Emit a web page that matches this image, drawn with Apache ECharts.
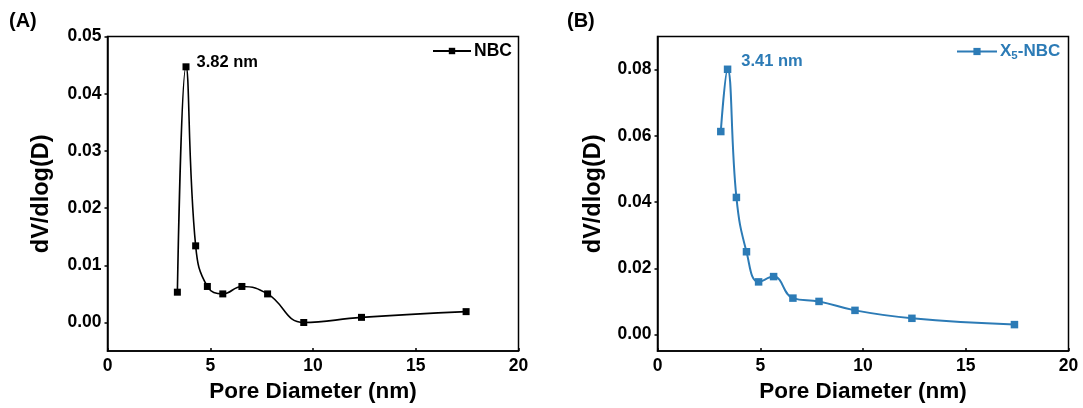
<!DOCTYPE html>
<html>
<head>
<meta charset="utf-8">
<script src="https://cdn.jsdelivr.net/npm/echarts@6/dist/echarts.min.js"></script>
<style>
html,body{margin:0;padding:0;background:#fff;}
#chart{width:1083px;height:408px;}
</style>
</head>
<body>
<div id="chart"></div>
<script>
// ---- Data ----
const xNBC = [3.40, 3.82, 4.29, 4.86, 5.61, 6.54, 7.79, 9.55, 12.36, 17.45];
const yNBC = [0.0053, 0.0447, 0.0134, 0.0063, 0.0050, 0.0063, 0.0050, 0.0000, 0.0009, 0.0019];
const xX5 = [3.08, 3.41, 3.84, 4.33, 4.92, 5.65, 6.59, 7.86, 9.61, 12.38, 17.37];
const yX5 = [0.0613, 0.0801, 0.0414, 0.0250, 0.0159, 0.0175, 0.0110, 0.0100, 0.0073, 0.0049, 0.0030];
const yTicksA = [0.00, 0.01, 0.02, 0.03, 0.04, 0.05];
const yTicksB = [0.00, 0.02, 0.04, 0.06, 0.08];
const xTicks = [0, 5, 10, 15, 20];
const peakA = 1, peakB = 1;
const labelA = '3.82 nm', labelB = '3.41 nm';

const FONT = '"Liberation Sans", Arial, sans-serif';
const BLUE = '#2c7bb6';

function pts(xs, ys, peakIdx, label, color, dist) {
  return xs.map((x, i) => {
    const d = { value: [x, ys[i]] };
    if (i === peakIdx) {
      d.label = {
        show: true, formatter: label, position: 'right', distance: dist[0], offset: [0, dist[1]],
        color: color, fontFamily: FONT, fontWeight: 'bold', fontSize: 16.5
      };
    }
    return d;
  });
}

function xAxisCfg(gi) {
  return {
    type: 'value', gridIndex: gi, min: 0, max: 20, interval: 5,
    name: 'Pore Diameter (nm)', nameLocation: 'middle', nameGap: 28,
    nameTextStyle: { fontFamily: FONT, fontWeight: 'bold', fontSize: 22.5, color: '#000' },
    axisLine: { show: true, onZero: false, lineStyle: { color: '#000', width: 1.5 } },
    axisTick: { show: true, inside: true, length: 3, lineStyle: { color: '#000', width: 1.5 } },
    axisLabel: { fontFamily: FONT, fontWeight: 'bold', fontSize: 17.5, color: '#000', margin: 6,
      customValues: xTicks },
    splitLine: { show: false }
  };
}
function yAxisCfg(gi, ticks, min, max, gap) {
  return {
    type: 'value', gridIndex: gi, min: min, max: max,
    name: 'dV/dlog(D)', nameLocation: 'middle', nameGap: gap,
    nameTextStyle: { fontFamily: FONT, fontWeight: 'bold', fontSize: 23.5, color: '#000' },
    axisLine: { show: true, onZero: false, lineStyle: { color: '#000', width: 1.5 } },
    axisTick: { show: true, inside: false, length: 3, customValues: ticks, lineStyle: { color: '#000', width: 1.5 } },
    axisLabel: { fontFamily: FONT, fontWeight: 'bold', fontSize: 17.5, color: '#000', margin: 6,
      customValues: ticks, formatter: v => v.toFixed(2) },
    splitLine: { show: false }
  };
}

const chart = echarts.init(document.getElementById('chart'), null, { renderer: 'canvas' });
chart.setOption({
  backgroundColor: '#fff',
  animation: false,
  graphic: [
    { type: 'text', left: 9, top: 11, style: { text: '(A)', font: 'bold 20px ' + FONT, fill: '#000' } },
    { type: 'text', left: 567, top: 11, style: { text: '(B)', font: 'bold 20px ' + FONT, fill: '#000' } }
  ],
  grid: [
    { left: 107.5, top: 36.5, width: 411, height: 315.5, show: true, borderColor: '#000', borderWidth: 1.5, containLabel: false },
    { left: 657.5, top: 36.5, width: 411, height: 315.5, show: true, borderColor: '#000', borderWidth: 1.5, containLabel: false }
  ],
  legend: [
    { left: 427, top: 37, itemWidth: 38, itemHeight: 8, itemGap: 4, data: ['NBC'],
      textStyle: { fontFamily: FONT, fontWeight: 'bold', fontSize: 17.5, color: '#000', padding: [0, 0, 0, -2] } },
    { left: 951, top: 38, itemWidth: 40, itemHeight: 9, itemGap: 4, data: ['X5-NBC'],
      formatter: () => '{a|X}{s|5}{a|-NBC}',
      textStyle: { color: BLUE, padding: [0, 0, 0, -2],
        rich: {
          a: { fontFamily: FONT, fontWeight: 'bold', fontSize: 17, color: BLUE },
          s: { fontFamily: FONT, fontWeight: 'bold', fontSize: 11.5, color: BLUE, verticalAlign: 'bottom', padding: [8, 0, 0, 0] }
        } } }
  ],
  xAxis: [xAxisCfg(0), xAxisCfg(1)],
  yAxis: [yAxisCfg(0, yTicksA, -0.005, 0.05, 54), yAxisCfg(1, yTicksB, -0.005, 0.09, 52)],
  series: [
    { name: 'NBC', type: 'line', xAxisIndex: 0, yAxisIndex: 0, smooth: 0.45,
      symbol: 'rect', symbolSize: 7, color: '#000',
      lineStyle: { color: '#000', width: 1.6 }, itemStyle: { color: '#000' },
      data: pts(xNBC, yNBC, peakA, labelA, '#000', [7, -4]) },
    { name: 'X5-NBC', type: 'line', xAxisIndex: 1, yAxisIndex: 1, smooth: 0.45,
      symbol: 'rect', symbolSize: 7.5, color: BLUE,
      lineStyle: { color: BLUE, width: 2 }, itemStyle: { color: BLUE },
      data: pts(xX5, yX5, peakB, labelB, BLUE, [10, -8]) }
  ]
});
</script>
</body>
</html>
